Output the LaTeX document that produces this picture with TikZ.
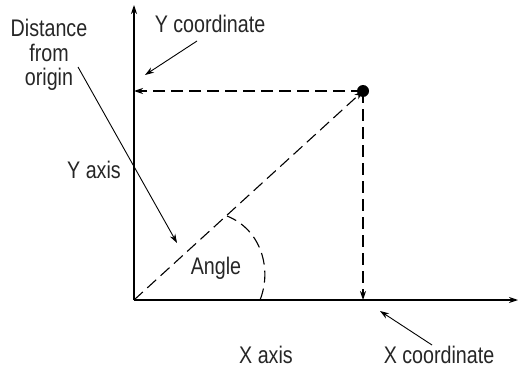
\documentclass[tikz,border=0pt]{standalone}
\usepackage{fontspec}
\setmainfont[FakeStretch=0.82]{Liberation Sans}
\usetikzlibrary{arrows.meta}
\begin{document}
\begin{tikzpicture}[x=1pt,y=-1pt,
  axis/.style={line width=1.1pt,-{Stealth[length=9pt,width=6pt]}},
  dash line/.style={line width=1.1pt,dash pattern=on 12pt off 6pt},
  dash arrow/.style={dash line,-{Stealth[length=9pt,width=6pt]}},
  pointer/.style={line width=0.9pt,-{Stealth[length=9pt,width=6pt]}},
  lbl/.style={font=\fontsize{24}{24.5}\selectfont,inner sep=0pt,align=center,text=black!85}]
\useasboundingbox (0,0) rectangle (522,369);
\coordinate (O) at (134,300);
\coordinate (ytop) at (134,5);
\coordinate (xend) at (518,300);
\coordinate (P) at (363,91);
\coordinate (yc) at (134,91);
\coordinate (xc) at (363,300);
\draw[axis] (O) -- (ytop);
\draw[axis] (O) -- (xend);
\draw[dash arrow] (P) -- (yc);
\draw[dash arrow] (P) -- (xc);
\draw[dash arrow] (O) -- (P);
\fill (P) circle (6);
\draw[dash line] (260,300) .. controls (272,270) and (262,230) .. (227,216);
\node[lbl] (ycl) at (210,24) {Y coordinate};
\node[lbl] (dist) at (49,55) {Distance\\from\\origin};
\node[lbl] (yax) at (94,169.5) {Y axis};
\node[lbl] (ang) at (216,268) {Angle};
\node[lbl] (xax) at (266,354.5) {X axis};
\node[lbl] (xcl) at (439,354.5) {X coordinate};
\coordinate (a1) at (197,41);
\coordinate (a1e) at (145,75);
\coordinate (a2) at (78,67);
\coordinate (a2e) at (177,243);
\coordinate (a3) at (432,345);
\coordinate (a3e) at (380,311);
\draw[pointer] (a1) -- (a1e);
\draw[pointer] (a2) -- (a2e);
\draw[pointer] (a3) -- (a3e);
\end{tikzpicture}
\end{document}
